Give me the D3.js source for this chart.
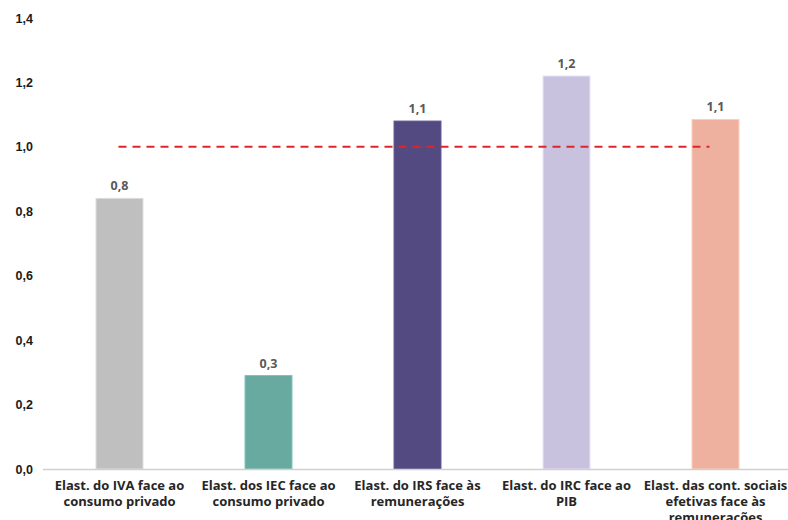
<!DOCTYPE html>
<html>
<head>
<meta charset="utf-8">
<script src="https://cdn.jsdelivr.net/npm/d3@7"></script>
<style>
	body { margin: 0; background: #fff; }
	svg { display: block; font-family: 'Open Sans', sans-serif; }
</style>
</head>
<body>
<svg id="chart" width="788" height="520"></svg>
<script>
	// Data
	var categories = [
		['Elast. do IVA face ao', 'consumo privado'],
		['Elast. dos IEC face ao', 'consumo privado'],
		['Elast. do IRS face às', 'remunerações'],
		['Elast. do IRC face ao', 'PIB'],
		['Elast. das cont. sociais', 'efetivas face às', 'remunerações']
	];
	var values = [0.84, 0.29, 1.08, 1.22, 1.085];
	var valueLabels = ['0,8', '0,3', '1,1', '1,2', '1,1'];
	var colors = ['#bfbfbf', '#68a9a0', '#534a81', '#c8c2df', '#efb19f'];
	var yTicks = [0, 0.2, 0.4, 0.6, 0.8, 1.0, 1.2, 1.4];
	var refValue = 1.0;

	var svg = d3.select('#chart');

	var x = d3.scaleBand()
		.domain(d3.range(categories.length))
		.range([45, 790])
		.paddingInner(0.685)
		.paddingOuter(0.3425);

	var y = d3.scaleLinear()
		.domain([0, 1.4])
		.range([469, 18]);

	// Y axis labels (no line)
	var yAxis = d3.axisLeft(y)
		.tickValues(yTicks)
		.tickSize(0)
		.tickPadding(0)
		.tickFormat(function(d) { return d3.format('.1f')(d).replace('.', ','); });

	var gy = svg.append('g')
		.attr('transform', 'translate(33,0)')
		.call(yAxis);
	gy.select('.domain').remove();
	gy.selectAll('text')
		.attr('font-size', 12.5)
		.attr('font-weight', 'bold')
		.attr('fill', '#1a1a1a');

	// Bars
	svg.selectAll('rect.bar')
		.data(values)
		.enter().append('rect')
			.attr('class', 'bar')
			.attr('x', function(d, i) { return x(i); })
			.attr('y', function(d) { return y(d); })
			.attr('width', x.bandwidth())
			.attr('height', function(d) { return y(0) - y(d); })
			.attr('fill', function(d, i) { return colors[i]; })
			.attr('stroke', function(d, i) { return d3.color(colors[i]).brighter(0.4); })
			.attr('stroke-width', 1);

	// Value labels
	svg.selectAll('text.val')
		.data(values)
		.enter().append('text')
			.attr('class', 'val')
			.attr('x', function(d, i) { return x(i) + x.bandwidth() / 2; })
			.attr('y', function(d) { return y(d) - 8; })
			.attr('text-anchor', 'middle')
			.attr('font-size', 12.5)
			.attr('font-weight', 'bold')
			.attr('fill', '#595959')
			.text(function(d, i) { return valueLabels[i]; });

	// X axis
	var xAxis = d3.axisBottom(x)
		.tickSize(0)
		.tickSizeOuter(0)
		.tickFormat('');

	var gx = svg.append('g')
		.attr('transform', 'translate(0,' + y(0) + ')')
		.call(xAxis);
	gx.select('.domain')
		.attr('d', 'M43,0.5H788')
		.attr('stroke', '#d0d0d0')
		.attr('stroke-width', 1.5);

	// Category labels
	svg.selectAll('text.cat')
		.data(categories)
		.enter().append('text')
			.attr('class', 'cat')
			.attr('x', function(d, i) { return x(i) + x.bandwidth() / 2; })
			.attr('y', 490)
			.attr('text-anchor', 'middle')
			.attr('font-size', 13)
			.attr('font-weight', 'bold')
			.attr('fill', '#262626')
			.each(function(d) {
				var t = d3.select(this);
				d.forEach(function(line, k) {
					t.append('tspan')
						.attr('x', t.attr('x'))
						.attr('dy', k === 0 ? 0 : 16)
						.text(line);
				});
			});

	// Reference line at 1,0
	svg.append('line')
		.attr('x1', x(0) + x.bandwidth() / 2 - 1)
		.attr('x2', x(categories.length - 1) + x.bandwidth() / 2 - 6)
		.attr('y1', y(refValue))
		.attr('y2', y(refValue))
		.attr('stroke', '#e0242a')
		.attr('stroke-width', 2)
		.attr('stroke-dasharray', '8,6');
</script>
</body>
</html>
